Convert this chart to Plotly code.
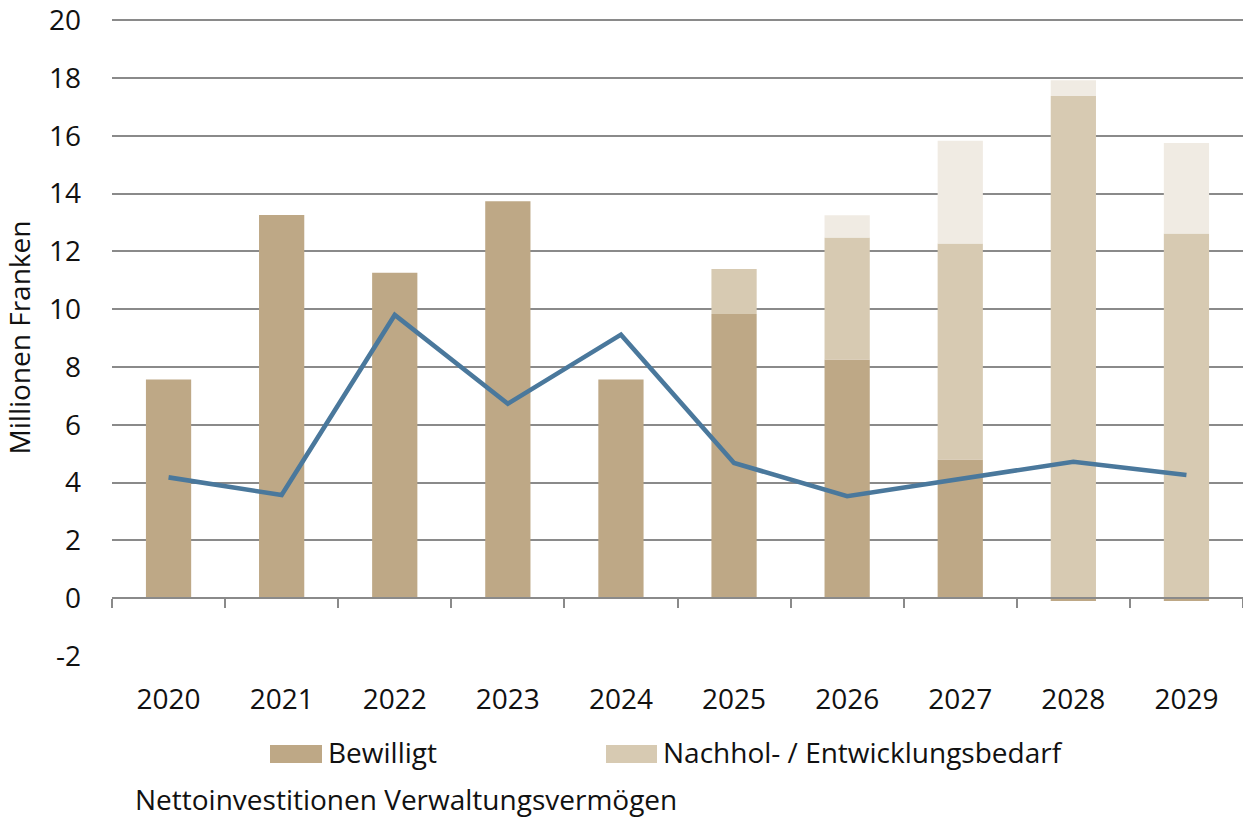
import plotly.graph_objects as go

years = ["2020", "2021", "2022", "2023", "2024", "2025", "2026", "2027", "2028", "2029"]
bewilligt = [7.57, 13.26, 11.26, 13.73, 7.57, 9.83, 8.26, 4.80, -0.10, -0.10]
nachhol = [None, None, None, None, None, 1.56, 4.22, 7.47, 17.38, 12.62]
zusatz = [None, None, None, None, None, None, 0.77, 3.56, 0.54, 3.13]
netto = [4.18, 3.57, 9.80, 6.73, 9.12, 4.68, 3.53, 4.13, 4.72, 4.26]

legend_labels = ["Bewilligt", "Nachhol- / Entwicklungsbedarf", "Nettoinvestitionen Verwaltungsvermögen"]
y_ticks = list(range(-2, 21, 2))
y_ticktext = [str(v) for v in y_ticks]

C_DARK = "#BEA886"
C_LIGHT = "#D7CAB2"
C_LIGHTEST = "#F0EBE3"
C_LINE = "#4A789C"
C_GRID = "#8A8A8A"
FONT = "Open Sans"
FS = 28

W, H = 1243, 820
L, R = 112, 0
y_lo, y_hi = -2, 20.04
B = H - 656
T = 20 - round(0.04 * (656 - 20) / 22)
pw = W - L - R
ph = H - T - B

def px(x):
    return (x - L) / pw

def py(y):
    return (H - B - y) / ph

fig = go.Figure()
bar_style = dict(width=0.4, marker_line_width=0)
fig.add_bar(x=years, y=bewilligt, name=legend_labels[0], marker_color=C_DARK, **bar_style)
fig.add_bar(x=years, y=nachhol, name=legend_labels[1], marker_color=C_LIGHT, **bar_style)
fig.add_bar(x=years, y=zusatz, name="Zusatz", marker_color=C_LIGHTEST, **bar_style)
fig.add_scatter(x=years, y=netto, name=legend_labels[2], mode="lines",
                line=dict(color=C_LINE, width=4.6), xaxis="x2")

zero_pos = (0 - y_lo) / (y_hi - y_lo)

fig.update_layout(
    width=W, height=H,
    margin=dict(l=L, r=R, t=T, b=B),
    barmode="relative",
    plot_bgcolor="white", paper_bgcolor="white",
    showlegend=False,
    font=dict(family=FONT, size=FS, color="#111111"),
    xaxis=dict(type="category", range=[-0.5, 9.5], showgrid=False, showline=False,
               ticks="", ticklabelstandoff=24, tickfont=dict(size=FS)),
    xaxis2=dict(type="category", range=[-0.5, 9.5], overlaying="x", anchor="free",
                position=zero_pos, side="bottom", showgrid=False, showline=True,
                linecolor=C_GRID, linewidth=2, ticks="outside", tickson="boundaries",
                ticklen=9, tickwidth=2, tickcolor=C_GRID, showticklabels=False),
    yaxis=dict(range=[y_lo, y_hi], tickvals=y_ticks, ticktext=y_ticktext, showgrid=True,
               gridcolor=C_GRID, gridwidth=1.6, zeroline=False, showline=False, ticks="",
               ticklabelstandoff=30, ticklabeloverflow="allow", tickfont=dict(size=FS),
               title=dict(text="Millionen Franken", font=dict(size=FS), standoff=13)),
)

# custom legend
sw = [(270, 322), (606, 657)]
for (x0, x1), col in zip(sw, [C_DARK, C_LIGHT]):
    fig.add_shape(type="rect", xref="paper", yref="paper", x0=px(x0), x1=px(x1),
                  y0=py(763), y1=py(745), fillcolor=col, line_width=0)
fig.add_annotation(text=legend_labels[0], xref="paper", yref="paper", x=px(326), y=py(752),
                   xanchor="left", yanchor="middle", showarrow=False, font=dict(size=FS))
fig.add_annotation(text=legend_labels[1], xref="paper", yref="paper", x=px(661), y=py(752),
                   xanchor="left", yanchor="middle", showarrow=False, font=dict(size=FS))
fig.add_annotation(text=legend_labels[2], xref="paper", yref="paper", x=px(133), y=py(799),
                   xanchor="left", yanchor="middle", showarrow=False, font=dict(size=FS))

fig.write_html(
    "out.html",
    config={"displayModeBar": False},
    post_script="document.body.style.margin='0';document.body.style.padding='0';",
)
